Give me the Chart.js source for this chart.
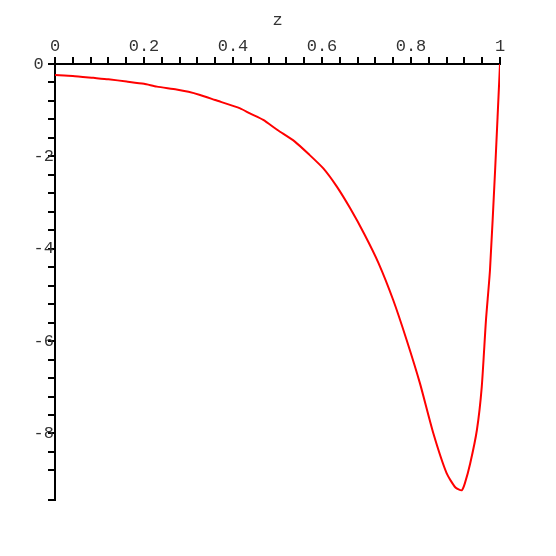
<!DOCTYPE html>
<html>
<head>
<meta charset="utf-8">
<script src="https://cdn.jsdelivr.net/npm/chart.js@4"></script>
<style>
  html, body { margin: 0; padding: 0; background: #fff; }
  #wrap { width: 556px; height: 556px; }
</style>
</head>
<body>
<div id="wrap"><canvas id="c" width="556" height="556"></canvas></div>
<script>
const zValues = [0, 0.04, 0.086, 0.12, 0.161, 0.2, 0.229, 0.273, 0.3, 0.326, 0.36, 0.416, 0.438, 0.468, 0.5, 0.539, 0.57, 0.603, 0.633, 0.663, 0.695, 0.727, 0.76, 0.79, 0.82, 0.85, 0.88, 0.9, 0.914, 0.921, 0.933, 0.948, 0.959, 0.9685, 0.9775, 0.989, 1.0];
const fValues = [-0.24, -0.26, -0.30, -0.33, -0.38, -0.43, -0.49, -0.55, -0.60, -0.67, -0.78, -0.96, -1.07, -1.21, -1.43, -1.68, -1.95, -2.26, -2.65, -3.12, -3.68, -4.31, -5.11, -5.97, -6.91, -7.99, -8.86, -9.17, -9.23, -9.08, -8.65, -7.93, -6.99, -5.54, -4.46, -2.30, 0];
const xTickLabels = ['0', '0.2', '0.4', '0.6', '0.8', '1'];
const yTickLabels = ['0', '-2', '-4', '-6', '-8'];
const xAxisTitle = 'z';

const points = zValues.map((z, i) => ({ x: z, y: fValues[i] }));
const font = { family: "'Liberation Mono', 'DejaVu Sans Mono', monospace", size: 17 };

new Chart(document.getElementById('c'), {
  type: 'scatter',
  data: {
    datasets: [{
      data: points,
      showLine: true,
      borderColor: '#ff0000',
      borderWidth: 2,
      pointRadius: 0,
      tension: 0.2,
      fill: false
    }]
  },
  options: {
    responsive: false,
    animation: false,
    layout: { padding: { left: 0, top: 0, right: 56, bottom: 56 } },
    plugins: { legend: { display: false }, tooltip: { enabled: false } },
    scales: {
      x: {
        type: 'linear',
        position: 'top',
        min: 0,
        max: 1,
        afterFit: s => { s.height = 64; },
        border: { display: true, color: '#000', width: 2 },
        grid: { display: true, drawOnChartArea: false, drawTicks: true, tickLength: 7, color: '#000', lineWidth: 2 },
        ticks: {
          stepSize: 0.04,
          autoSkip: false,
          maxRotation: 0,
          padding: 0,
          color: '#333',
          font: font,
          callback: v => {
            const k = Math.round(v * 5);
            if (Math.abs(v * 5 - k) < 1e-6) return xTickLabels[k];
            return '';
          }
        },
        title: { display: true, text: xAxisTitle, color: '#333', font: font, padding: { top: 10, bottom: 0 } }
      },
      y: {
        type: 'linear',
        position: 'left',
        min: -9.44,
        max: 0,
        afterFit: s => { s.width = 55; },
        border: { display: true, color: '#000', width: 2 },
        grid: { display: true, drawOnChartArea: false, drawTicks: true, tickLength: 7, color: '#000', lineWidth: 2 },
        ticks: {
          stepSize: 0.4,
          autoSkip: false,
          padding: -6,
          color: '#333',
          font: font,
          callback: v => {
            const k = Math.round(-v / 2);
            if (Math.abs(-v / 2 - k) < 1e-6 && k < yTickLabels.length) return k === 0 ? yTickLabels[k] + ' ' : yTickLabels[k];
            return '';
          }
        }
      }
    }
  }
});
</script>
</body>
</html>
